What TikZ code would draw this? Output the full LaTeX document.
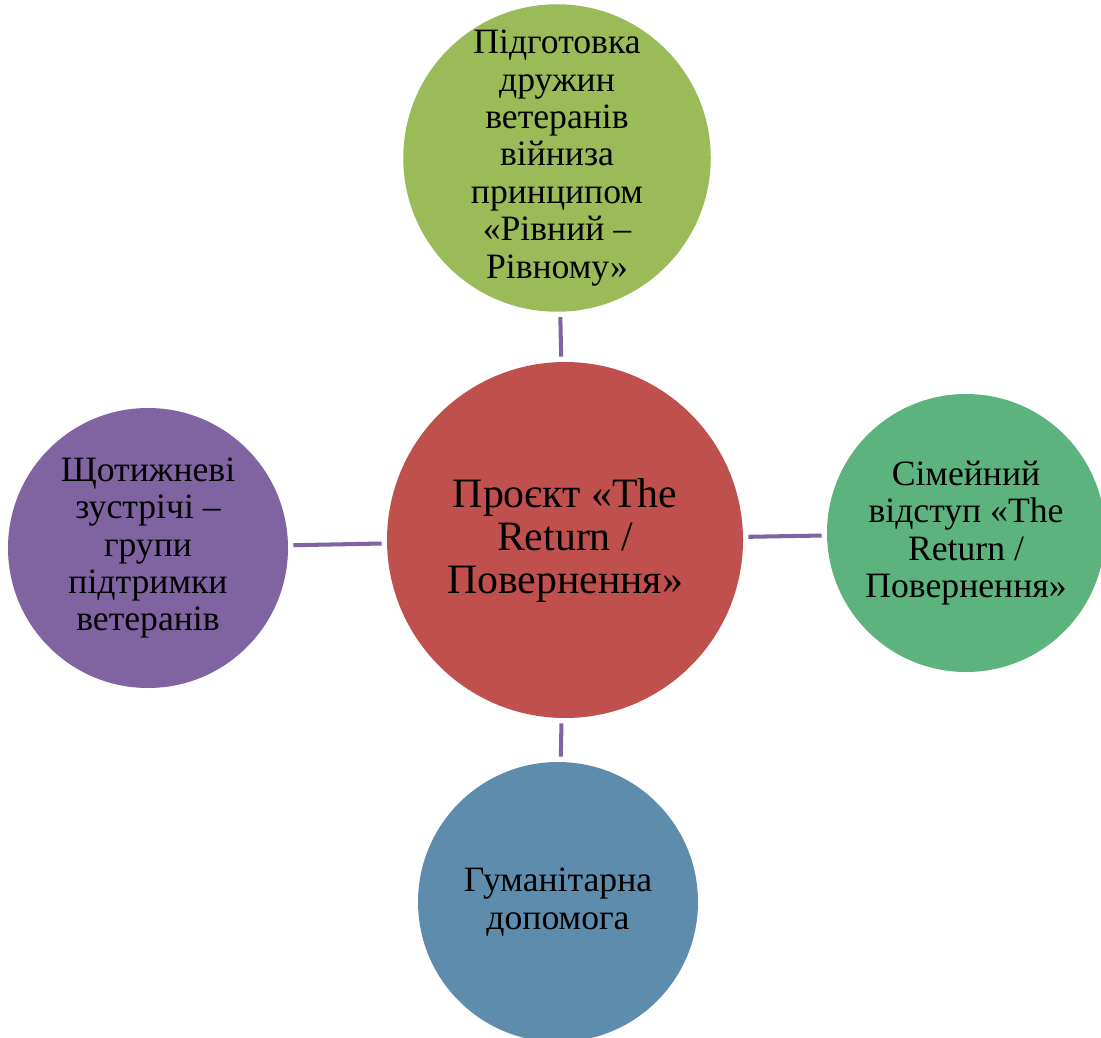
\documentclass[tikz,border=0pt]{standalone}
\usepackage{fontspec}
\setmainfont{Liberation Serif}
\usepackage{tikz}
\usetikzlibrary{positioning}
\definecolor{olivegreen}{RGB}{155,187,89}
\definecolor{projred}{RGB}{192,80,77}
\definecolor{seagreen}{RGB}{92,179,126}
\definecolor{violet}{RGB}{128,100,162}
\definecolor{steelblue}{RGB}{94,140,172}

\begin{document}
\begin{tikzpicture}[x=0.02cm, y=-0.02cm,
    bubble/.style={circle, inner sep=0pt, align=center, text=black,
      font=\fontsize{20.3}{21.3}\selectfont},
    link/.style={draw=violet, line width=2.3pt, shorten <=0.1cm, shorten >=0.1cm}]
  \useasboundingbox (0,0) rectangle (1101,1037);
  % centre
  \node[bubble, fill=projred, minimum size=356*0.02cm,
    font=\fontsize{23.8}{24.5}\selectfont] (proj) at (565,540)
    {Проєкт «The\\Return /\\Повернення»};
  % outer circles
  \node[bubble, fill=olivegreen, minimum size=300*0.02cm] (training) at (557,158)
    {Підготовка\\дружин\\ветеранів\\війниза\\принципом\\«Рівний –\\Рівному»};
  \node[bubble, fill=seagreen, minimum size=278*0.02cm] (retreat) at (966,533)
    {Сімейний\\відступ «The\\Return /\\Повернення»};
  \node[bubble, fill=violet, minimum size=280*0.02cm] (meetings) at (148,548)
    {Щотижневі\\зустрічі –\\групи\\підтримки\\ветеранів};
  \node[bubble, fill=steelblue, minimum size=280*0.02cm] (aid) at (558,902)
    {Гуманітарна\\допомога};
  % connectors
  \foreach \n in {training, retreat, meetings, aid}
    \draw[link] (proj) -- (\n);
\end{tikzpicture}
\end{document}
